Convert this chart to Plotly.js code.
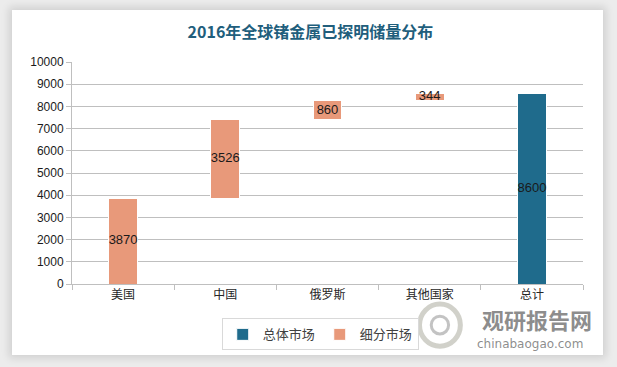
<!DOCTYPE html>
<html>
<head>
<meta charset="utf-8">
<script src="https://cdn.plot.ly/plotly-3.0.1.min.js"></script>
<style>
  html, body { margin: 0; padding: 0; background: #ececec; width: 617px; height: 367px; overflow: hidden; }
  #panel { position: absolute; left: 12px; top: 10px; width: 591px; height: 345px; background: #fff;
           box-shadow: 0 0 8px 3px rgba(0,0,0,0.12); }
  #chart { width: 591px; height: 345px; }
</style>
</head>
<body>
<div id="panel"><div id="chart"></div></div>
<script>
const categories = ['美国', '中国', '俄罗斯', '其他国家', '总计'];
const stepValues = [3870, 3526, 860, 344, null];
const totalValues = [null, null, null, null, 8600];
const seriesNames = ['总体市场', '细分市场'];
const yTicks = [0, 1000, 2000, 3000, 4000, 5000, 6000, 7000, 8000, 9000, 10000];

// Running base for the waterfall steps
const bases = [];
let acc = 0;
stepValues.forEach(v => { if (v === null) { bases.push(null); } else { bases.push(acc); acc += v; } });

const salmon = '#E8997A';
const teal = '#1F6B8C';
const barWidth = 0.28;

const labelX = [], labelY = [], labelT = [];
categories.forEach((c, i) => {
  if (stepValues[i] !== null) { labelX.push(c); labelY.push(bases[i] + stepValues[i] / 2); labelT.push(String(stepValues[i])); }
  if (totalValues[i] !== null) { labelX.push(c); labelY.push(totalValues[i] / 2); labelT.push(String(totalValues[i])); }
});

const data = [
  { type: 'bar', x: categories, y: bases, width: barWidth, marker: { color: 'rgba(0,0,0,0)' },
    showlegend: false, hoverinfo: 'skip' },
  { type: 'bar', x: categories, y: totalValues, width: barWidth, name: seriesNames[0],
    marker: { color: teal, line: { color: '#ffffff', width: 1 } } },
  { type: 'bar', x: categories, y: stepValues, width: barWidth, name: seriesNames[1],
    marker: { color: salmon, line: { color: '#ffffff', width: 1 } } },
  { type: 'scatter', mode: 'text', x: labelX, y: labelY, text: labelT, showlegend: false,
    textfont: { family: 'Liberation Sans, Arial, sans-serif', size: 13, color: '#1a1a1a' }, hoverinfo: 'skip' }
];

const layout = {
  width: 591, height: 345,
  margin: { l: 60, r: 20, t: 52, b: 71, autoexpand: false },
  paper_bgcolor: '#ffffff', plot_bgcolor: '#ffffff',
  barmode: 'stack', bargap: 0.7,
  title: { text: '2016年全球锗金属已探明储量分布', x: 0.505, xanchor: 'center', y: 0.935, yanchor: 'middle',
    font: { family: 'Noto Sans CJK SC, sans-serif', size: 16, color: '#215E7C', weight: 'bold' } },
  xaxis: {
    type: 'category', showline: true, linecolor: '#bfbfbf', linewidth: 1,
    ticks: 'outside', tickson: 'boundaries', ticklen: 5, tickcolor: '#bfbfbf',
    tickfont: { family: 'Noto Sans CJK SC, sans-serif', size: 12, color: '#262626' },
    showgrid: false, zeroline: false, fixedrange: true, automargin: false
  },
  yaxis: {
    range: [0, 10000], tickvals: yTicks, ticktext: yTicks.map(String),
    showline: true, linecolor: '#bfbfbf', linewidth: 1,
    ticks: 'outside', ticklen: 5, tickcolor: '#bfbfbf',
    showgrid: true, gridcolor: '#bfbfbf', gridwidth: 1, zeroline: false,
    tickfont: { family: 'Liberation Sans, Arial, sans-serif', size: 12, color: '#1a1a1a' }, fixedrange: true, automargin: false
  },
  legend: {
    orientation: 'h', x: 0.293, xanchor: 'left', y: -0.155, yanchor: 'top',
    bordercolor: '#d9d9d9', borderwidth: 1, bgcolor: '#ffffff',
    font: { family: 'Noto Sans CJK SC, sans-serif', size: 13, color: '#404040' },
    traceorder: 'normal', itemwidth: 30
  },
  annotations: [
    { text: '<b>观研报告网</b>', xref: 'paper', yref: 'paper', x: 0.91, y: -0.225, xanchor: 'center', yanchor: 'bottom',
      showarrow: false, height: 26, valign: 'middle',
      font: { family: 'Noto Sans CJK SC, sans-serif', size: 22, color: 'rgba(120,120,120,0.85)' } },
    { text: 'chinabaogao.com', xref: 'paper', yref: 'paper', x: 0.897, y: -0.23, xanchor: 'center', yanchor: 'top',
      showarrow: false, height: 14, valign: 'middle',
      font: { family: 'DejaVu Sans, sans-serif', size: 12, color: 'rgba(120,120,120,0.85)' } }
  ],
  shapes: [
    { type: 'circle', xref: 'paper', yref: 'paper', x0: 0.68, x1: 0.76, y0: -0.28, y1: -0.09,
      line: { color: 'rgba(190,190,180,0.7)', width: 5 }, fillcolor: 'rgba(0,0,0,0)' },
    { type: 'circle', xref: 'paper', yref: 'paper', x0: 0.703, x1: 0.737, y0: -0.225, y1: -0.145,
      line: { color: 'rgba(170,170,170,0.7)', width: 3 }, fillcolor: 'rgba(0,0,0,0)' }
  ]
};

Plotly.newPlot('chart', data, layout, { displayModeBar: false, staticPlot: true });
</script>
</body>
</html>
